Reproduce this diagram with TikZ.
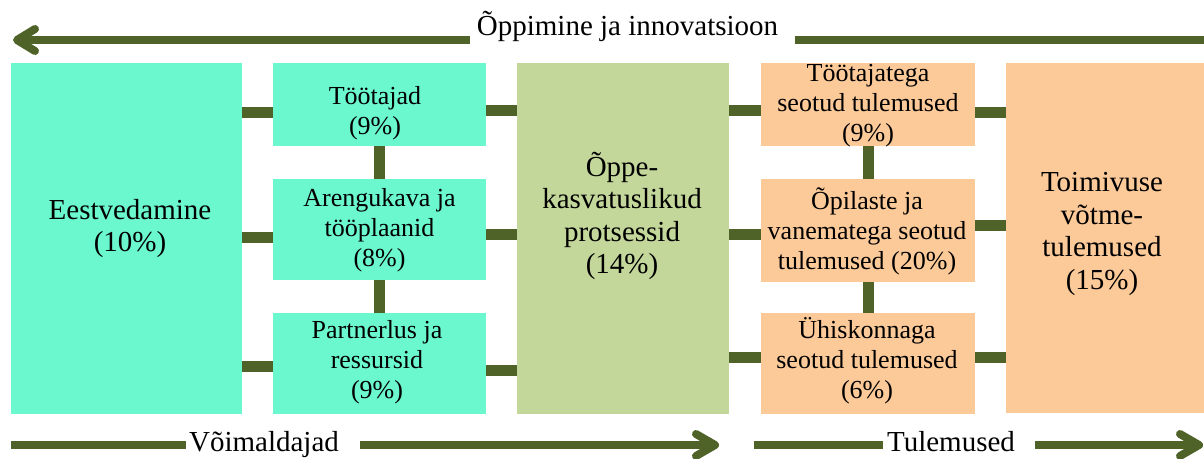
\documentclass[tikz,border=0pt]{standalone}
\usepackage{fontspec}
\setmainfont{Liberation Serif}
\usetikzlibrary{calc}
\definecolor{tealbox}{HTML}{6CF8CE}
\definecolor{olivebox}{HTML}{C4D79B}
\definecolor{peachbox}{HTML}{FCC998}
\definecolor{darkolive}{HTML}{4F6228}
\tikzset{
  box/.style={draw=none, inner sep=0pt, outer sep=0pt},
  tbox/.style={box, fill=tealbox},
  obox/.style={box, fill=olivebox},
  pbox/.style={box, fill=peachbox},
  conn/.style={draw=darkolive, line width=11pt},
  flow/.style={draw=darkolive, line width=8pt},
  chev/.style={draw=darkolive, line width=8pt, line cap=round, line join=round},
  small/.style={font=\fontsize{26}{30}\selectfont, align=center, anchor=base, inner sep=0pt},
  big/.style={font=\fontsize{29}{32.5}\selectfont, align=center, anchor=base, inner sep=0pt},
}
\begin{document}
\begin{tikzpicture}[x=1pt,y=-1pt]
\useasboundingbox[fill=white] (0,0) rectangle (1204,458);
% boxes
\node[tbox, minimum width=231pt, minimum height=351pt] (eest) at (126.5,238.5) {};
\node[tbox, minimum width=213pt, minimum height=83pt] (toot) at (379.5,104.5) {};
\node[tbox, minimum width=213pt, minimum height=101pt] (aren) at (379.5,229.5) {};
\node[tbox, minimum width=213pt, minimum height=101pt] (part) at (379.5,363.5) {};
\node[obox, minimum width=212pt, minimum height=351pt] (oppe) at (623,238.5) {};
\node[pbox, minimum width=214pt, minimum height=83pt] (ttul) at (868,104.5) {};
\node[pbox, minimum width=214pt, minimum height=103pt] (opil) at (868,230.5) {};
\node[pbox, minimum width=214pt, minimum height=101pt] (yhis) at (868,363.5) {};
\node[pbox, minimum width=204pt, minimum height=350pt] (toim) at (1108,238) {};
% connectors
\draw[conn] (eest.east |- 0,112.5) -- (toot.west |- 0,112.5);
\draw[conn] (eest.east |- 0,237) -- (aren.west |- 0,237);
\draw[conn] (eest.east |- 0,366) -- (part.west |- 0,366);
\draw[conn] (toot.east |- 0,110) -- (oppe.west |- 0,110);
\draw[conn] (aren.east |- 0,234) -- (oppe.west |- 0,234);
\draw[conn] (part.east |- 0,370) -- (oppe.west |- 0,370);
\draw[conn] (oppe.east |- 0,110) -- (ttul.west |- 0,110);
\draw[conn] (oppe.east |- 0,234) -- (opil.west |- 0,234);
\draw[conn] (oppe.east |- 0,357) -- (yhis.west |- 0,357);
\draw[conn] (ttul.east |- 0,112.5) -- (toim.west |- 0,112.5);
\draw[conn] (opil.east |- 0,225) -- (toim.west |- 0,225);
\draw[conn] (yhis.east |- 0,357) -- (toim.west |- 0,357);
\draw[conn] (toot.south) -- (aren.north);
\draw[conn] (aren.south) -- (part.north);
\draw[conn] (ttul.south) -- (opil.north);
\draw[conn] (opil.south) -- (yhis.north);
% texts (anchor base = last line baseline)
\node[big] (eestT) at (130,251.5) {Eestvedamine\\(10\%)};
\node[small] (tootT) at (375,134) {Töötajad\\(9\%)};
\node[small] (arenT) at (379.5,266) {Arengukava ja\\tööplaanid\\(8\%)};
\node[small] (partT) at (377,398) {Partnerlus ja\\ressursid\\(9\%)};
\node[big] (oppeT) at (622,273.5) {Õppe-\\kasvatuslikud\\protsessid\\(14\%)};
\node[small] (ttulT) at (868,141) {Töötajatega\\seotud tulemused\\(9\%)};
\node[small] (opilT) at (867,269) {Õpilaste ja\\vanematega seotud\\tulemused (20\%)};
\node[small] (yhisT) at (867,398) {Ühiskonnaga\\seotud tulemused\\(6\%)};
\node[big] (toimT) at (1102,289) {Toimivuse\\võtme-\\tulemused\\(15\%)};
% top flow
\node[big] (topT) at (627.5,35) {Õppimine ja innovatsioon};
\coordinate (tA) at (17,40);
\coordinate (tB) at (470,40);
\coordinate (tC) at (795,40);
\coordinate (tD) at (1204,40);
\draw[flow] (tB) -- (tA);
\draw[flow] (tC) -- (tD);
\draw[chev] ($(tA)+(18,-11)$) -- (tA) -- ($(tA)+(18,11)$);
% bottom flows
\node[big] (voimT) at (264,451) {Võimaldajad};
\node[big] (tuleT) at (951,451) {Tulemused};
\coordinate (bA) at (11,445);
\coordinate (bB) at (186,445);
\coordinate (bC) at (360,445);
\coordinate (bD) at (715,445);
\coordinate (bE) at (754,445);
\coordinate (bF) at (883,445);
\coordinate (bG) at (1035,445);
\coordinate (bH) at (1199,445);
\draw[flow] (bA) -- (bB);
\draw[flow] (bC) -- (bD);
\draw[chev] ($(bD)+(-19,-11)$) -- (bD) -- ($(bD)+(-19,11)$);
\draw[flow] (bE) -- (bF);
\draw[flow] (bG) -- (bH);
\draw[chev] ($(bH)+(-19,-11)$) -- (bH) -- ($(bH)+(-19,11)$);
\end{tikzpicture}
\end{document}
